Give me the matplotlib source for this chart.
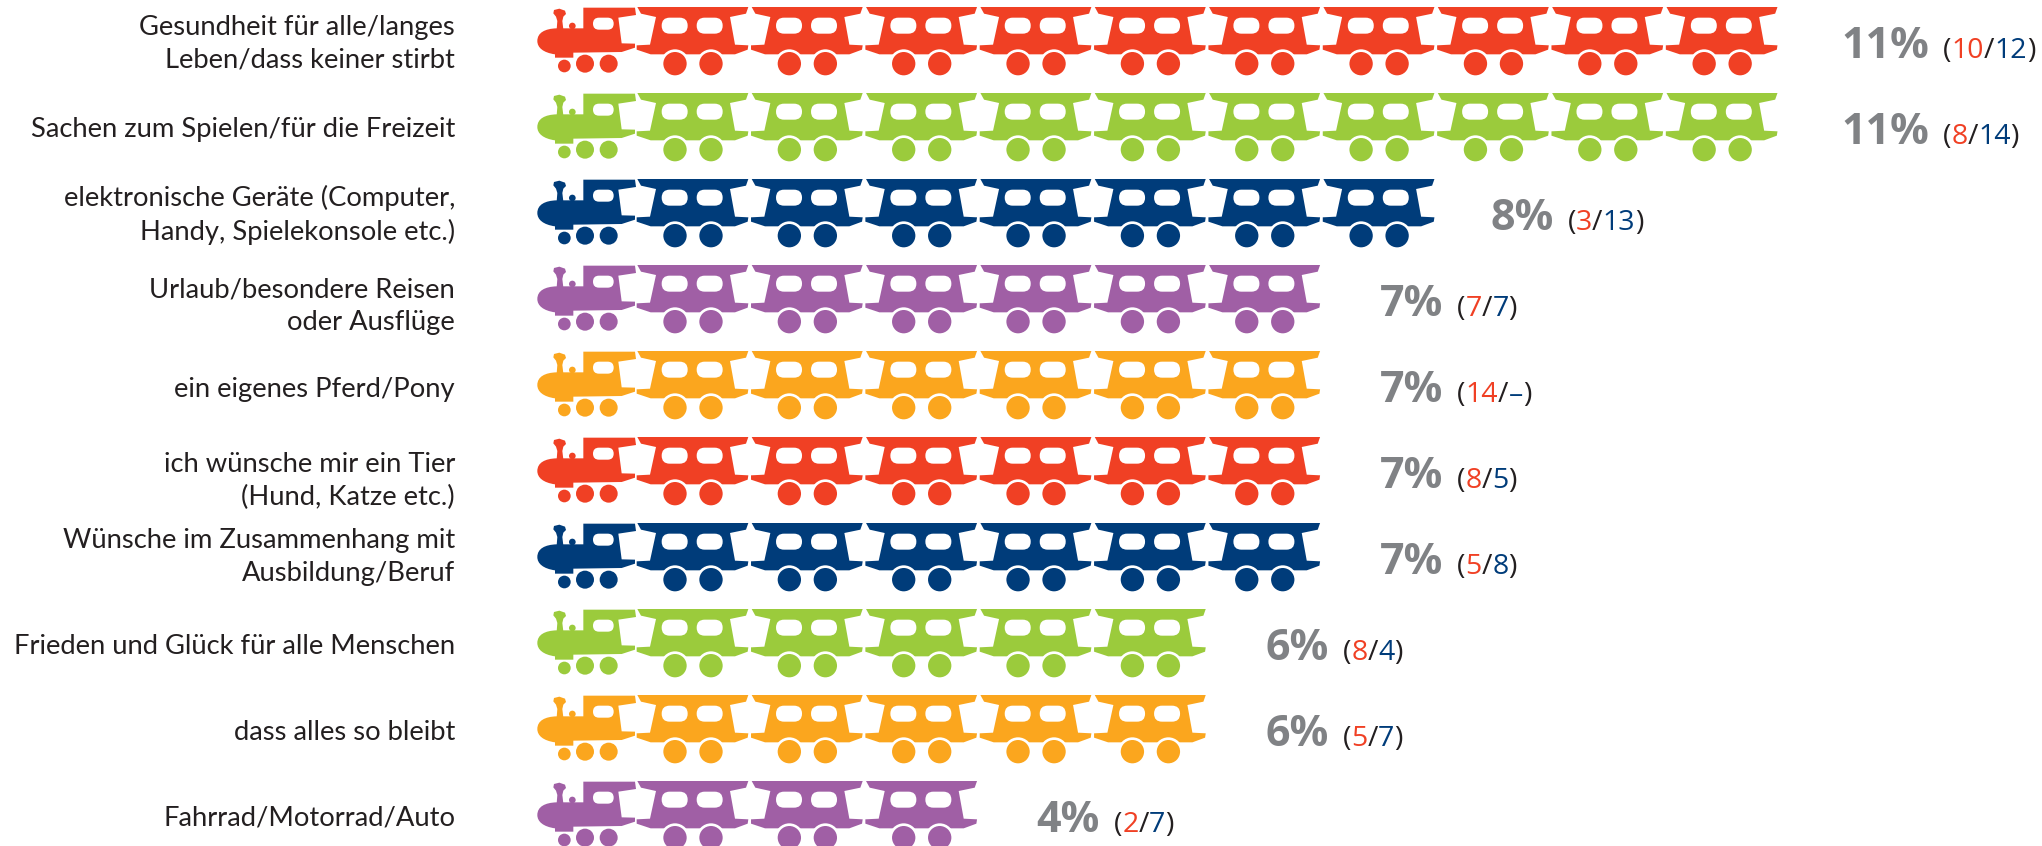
import matplotlib
matplotlib.use("Agg")
import matplotlib.pyplot as plt
from matplotlib.path import Path
from matplotlib.patches import PathPatch, Circle, FancyBboxPatch, Polygon

labels = [
    "Gesundheit für alle/langes\nLeben/dass keiner stirbt",
    "Sachen zum Spielen/für die Freizeit",
    "elektronische Geräte (Computer,\nHandy, Spielekonsole etc.)",
    "Urlaub/besondere Reisen\noder Ausflüge",
    "ein eigenes Pferd/Pony",
    "ich wünsche mir ein Tier\n(Hund, Katze etc.)",
    "Wünsche im Zusammenhang mit\nAusbildung/Beruf",
    "Frieden und Glück für alle Menschen",
    "dass alles so bleibt",
    "Fahrrad/Motorrad/Auto",
]
totals = [11, 11, 8, 7, 7, 7, 7, 6, 6, 4]
girls = ["10", "8", "3", "7", "14", "8", "5", "8", "5", "2"]
boys = ["12", "14", "13", "7", "–", "5", "8", "4", "7", "7"]

RED, GREEN, BLUE, PURPLE, ORANGE = "#F04024", "#9BCB3C", "#003C7A", "#A05FA5", "#FBA61E"
row_colors = [RED, GREEN, BLUE, PURPLE, ORANGE, RED, BLUE, GREEN, ORANGE, PURPLE]
label_y = [44, 130, 215, 306, 389, 481, 557, 646, 732, 818]
pct_dx = [4, 4, -4, 0, 0, 0, 0, 0, 0, 0]

W, H = 2042, 846
PITCH = 114.35
ROW = 86.0
LOCO_X = 530
CAR_X = 530 + 320 / 3
GREY, INK = "#808285", "#231F20"

fig = plt.figure(figsize=(W / 100, H / 100), dpi=100, facecolor="white")
ax = fig.add_axes([0, 0, 1, 1])
ax.set_xlim(0, W)
ax.set_ylim(H, 0)
ax.axis("off")


def car(x, y, color):
    pts = [(2, 0), (335, 0), (328, 20), (280, 30), (295, 113), (335, 115), (333, 128),
           (295, 142), (42, 142), (0, 128), (0, 115), (40, 113), (58, 30), (13, 20)]
    ax.add_patch(Polygon([(x + a / 3, y + b / 3) for a, b in pts], fc=color, ec="none"))
    for cx in (115, 223):
        ax.add_patch(Circle((x + cx / 3, y + 170 / 3), 43 / 3, fc="white", ec="none"))
        ax.add_patch(Circle((x + cx / 3, y + 170 / 3), 35 / 3, fc=color, ec="none"))
    for wx in (75, 180):
        ax.add_patch(FancyBboxPatch((x + (wx + 24) / 3, y + 56 / 3), 30 / 3, 0.01,
                                    boxstyle="round,pad=8,rounding_size=8",
                                    fc="white", ec="none"))


def loco(x, y, color):
    P = lambda a, b: (x + a / 3, y + b / 3)
    verts = [P(160, 5), P(315, 5), P(318, 27), P(265, 35), P(275, 112), P(315, 113), P(315, 125),
             P(275, 138), P(130, 140), P(130, 155), P(75, 155), P(75, 145),
             P(40, 140), P(22, 125), P(22, 105),
             P(22, 80), P(45, 68), P(80, 67), P(160, 67), P(160, 5)]
    codes = [Path.MOVETO] + [Path.LINETO] * 11 + [Path.CURVE4] * 3 + [Path.CURVE4] * 3 + [Path.LINETO, Path.CLOSEPOLY]
    ax.add_patch(PathPatch(Path(verts, codes), fc=color, ec="none"))
    chim = [P(70, 22), P(72, 12), P(88, 8), P(105, 14), P(108, 24), P(100, 32), P(97, 45),
            P(100, 70), P(80, 70), P(82, 45), P(78, 32)]
    ax.add_patch(Polygon(chim, fc=color, ec="none"))
    ax.add_patch(Circle(P(127, 60), 10 / 3, fc=color, ec="none"))
    ax.add_patch(FancyBboxPatch(P(207, 53), 26 / 3, 0.01,
                                boxstyle="round,pad=6,rounding_size=6",
                                fc="white", ec="none"))
    for cx, cy, r in [(103, 180, 19), (165, 173, 27), (236, 173, 27)]:
        ax.add_patch(Circle(P(cx, cy), r / 3, fc=color, ec="none"))


def draw_pct(x, y, parts):
    r = fig.canvas.get_renderer()
    for s, c, fs, w, gap in parts:
        x += gap
        t = ax.text(x, y, s, color=c, fontsize=fs, fontweight=w, family="Open Sans", va="baseline", ha="left")
        x = ax.transData.inverted().transform(t.get_window_extent(r).p1)[0]


for i, (lab, tot, g, b, col) in enumerate(zip(labels, totals, girls, boys, row_colors)):
    top = 7 + ROW * i
    loco(LOCO_X, top - 1, col)
    for k in range(tot - 1):
        car(CAR_X + PITCH * k, top, col)
    ax.text(455, label_y[i], lab, ha="right", va="center", fontsize=19.7, family="Lato",
            color=INK, linespacing=1.38)
    end = CAR_X + PITCH * (tot - 1)
    draw_pct(end + 57 + pct_dx[i], top + 51.5, [("%d%%" % tot, GREY, 31, "bold", 0),
                                                ("(", INK, 20.5, "normal", 14),
                                                (g, RED, 20.5, "normal", 0), ("/", INK, 20.5, "normal", 0),
                                                (b, BLUE, 20.5, "normal", 0), (")", INK, 20.5, "normal", 0)])

fig.savefig("out.png", dpi=100)
